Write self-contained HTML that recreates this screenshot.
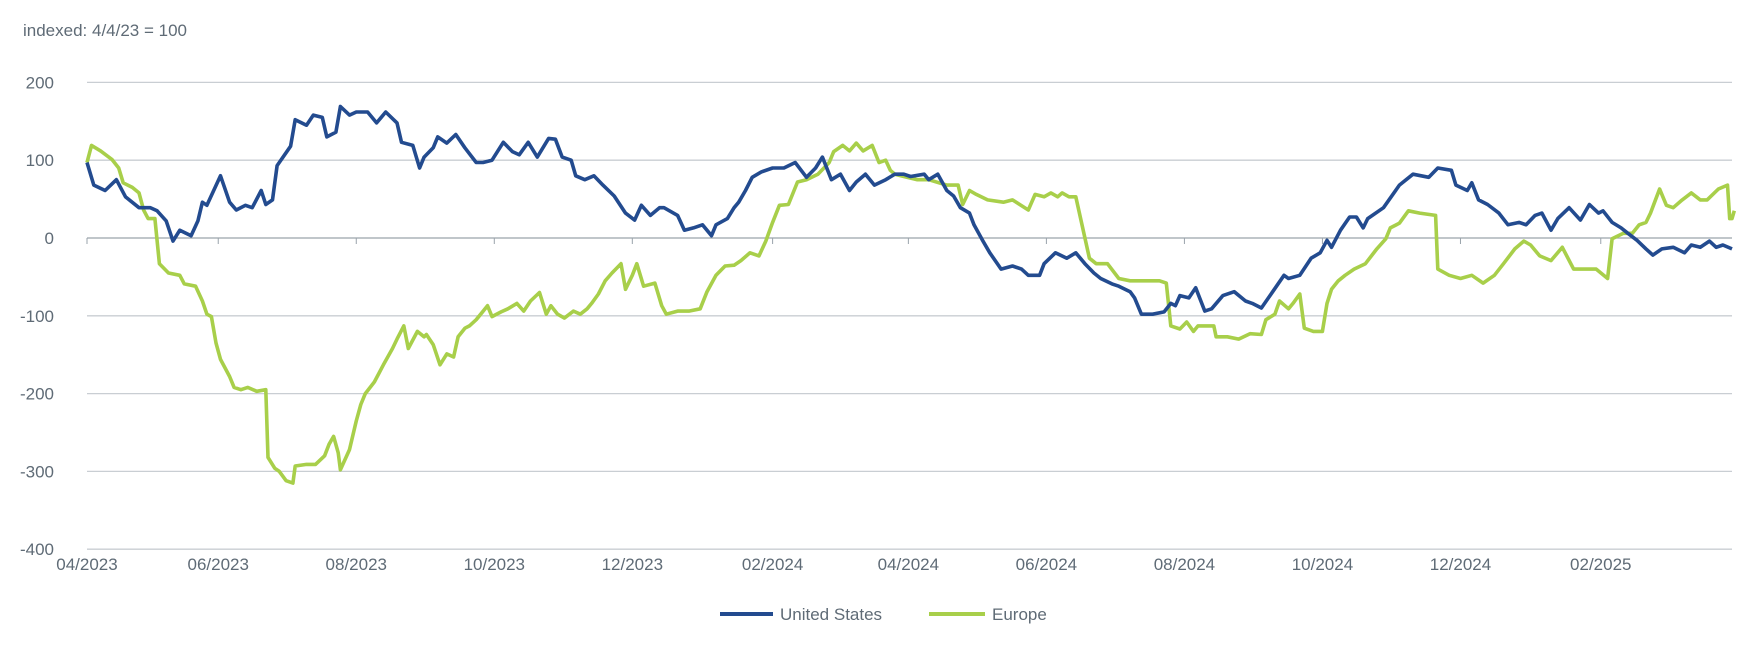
<!DOCTYPE html>
<html><head><meta charset="utf-8"><style>
body{margin:0;background:#fff;font-family:"Liberation Sans",sans-serif;}
svg text{font-family:"Liberation Sans",sans-serif;fill:#5f6b76;}
</style></head><body>
<svg width="1755" height="647" viewBox="0 0 1755 647">
<text x="23" y="36" font-size="17">indexed: 4/4/23 = 100</text>
<g id="grid"></g>
<g id="lines"></g>
<g>
<line x1="720" y1="614" x2="773" y2="614" stroke="#234b8f" stroke-width="4"/>
<text x="780" y="620" font-size="17">United States</text>
<line x1="929" y1="614" x2="985" y2="614" stroke="#a8cf4a" stroke-width="4"/>
<text x="992" y="620" font-size="17">Europe</text>
</g>
</svg>
<script>
const yTicks=[200,100,0,-100,-200,-300,-400];
const xTickLabels=["04/2023","06/2023","08/2023","10/2023","12/2023","02/2024","04/2024","06/2024","08/2024","10/2024","12/2024","02/2025"];
const xTickDays=[0,58,119,180,241,303,363,424,485,546,607,669];
const usDays=[0,3,8,13,17,23,28,31,35,38,41,46,49,51,53,56,59,63,66,70,73,77,79,82,84,90,92,97,100,104,106,110,112,116,119,124,128,132,137,139,144,147,149,153,155,159,163,167,172,175,179,184,188,191,195,199,204,207,210,214,216,220,224,228,233,238,242,245,249,253,255,261,264,268,272,276,278,283,286,288,291,294,298,303,308,313,318,322,325,329,333,337,340,344,348,353,357,361,364,370,372,376,380,383,386,390,392,396,399,404,409,413,416,421,423,428,433,437,441,445,448,453,456,461,463,466,471,476,479,481,483,487,490,494,497,502,507,512,515,519,524,529,531,536,541,545,548,550,554,558,561,564,566,573,580,586,593,597,603,605,610,612,615,619,624,628,633,636,640,643,647,650,655,660,664,668,670,674,678,681,685,689,692,696,701,706,709,713,717,720,723,727];
const usValues=[97,68,61,75,53,39,39,35,22,-4,10,3,22,46,42,61,80,46,36,42,39,61,43,49,93,118,152,145,158,155,130,136,169,158,162,162,148,162,148,123,119,90,104,116,130,122,133,116,97,97,100,123,111,107,123,104,128,127,104,100,80,75,80,68,54,32,23,42,29,39,39,29,10,13,17,3,17,25,39,46,61,78,85,90,90,97,78,90,104,75,82,61,72,82,68,75,82,82,79,82,75,82,61,54,39,32,17,-4,-19,-40,-36,-40,-48,-48,-33,-19,-26,-19,-33,-45,-52,-59,-62,-69,-77,-98,-98,-95,-84,-87,-74,-77,-64,-94,-91,-74,-69,-81,-84,-90,-69,-48,-52,-48,-26,-19,-3,-12,10,27,27,13,25,39,68,82,78,90,87,68,61,71,49,43,32,17,20,17,29,32,10,25,39,23,43,32,35,20,13,6,-3,-14,-22,-14,-12,-19,-9,-12,-4,-12,-9,-14];
const euDays=[0,2,6,11,14,16,20,23,25,27,30,32,36,41,43,48,51,53,55,57,59,63,65,68,71,75,79,80,83,85,88,91,92,97,101,105,107,109,111,112,116,119,121,123,127,131,135,137,140,142,146,149,150,153,156,159,162,164,167,169,172,174,177,179,183,186,190,193,196,200,203,205,208,211,215,218,221,223,226,229,232,236,238,241,243,246,251,254,256,261,266,271,274,278,282,286,289,293,297,300,303,306,310,314,318,323,328,330,334,337,340,343,347,350,353,355,357,361,367,372,380,385,387,390,393,398,405,409,416,419,423,426,429,431,434,437,443,446,451,456,461,466,474,477,479,483,486,489,491,498,499,504,509,514,519,521,525,527,531,533,536,538,542,546,548,550,553,556,560,565,570,574,576,580,584,589,596,597,602,607,612,617,622,626,631,635,638,642,647,652,657,662,667,672,674,679,683,686,689,691,695,698,701,705,709,713,716,721,725,726,727,728];
const euValues=[97,119,112,101,90,71,65,58,36,25,25,-33,-45,-48,-59,-62,-81,-98,-101,-135,-156,-178,-192,-195,-192,-197,-195,-282,-296,-300,-312,-315,-293,-291,-291,-280,-265,-255,-276,-298,-272,-235,-214,-200,-185,-163,-142,-130,-113,-142,-120,-127,-124,-137,-163,-149,-153,-127,-116,-113,-105,-98,-87,-101,-95,-91,-84,-94,-81,-70,-98,-87,-98,-103,-94,-98,-91,-84,-72,-55,-45,-33,-66,-48,-33,-62,-58,-87,-98,-94,-94,-91,-69,-48,-36,-35,-29,-19,-23,-4,20,42,43,72,75,82,97,111,119,112,122,112,119,97,100,87,82,79,75,75,68,68,43,61,56,49,46,49,36,56,53,58,53,58,53,53,-26,-33,-33,-52,-55,-55,-55,-58,-113,-117,-108,-120,-113,-113,-127,-127,-130,-123,-124,-105,-98,-81,-91,-84,-72,-116,-120,-120,-84,-66,-55,-48,-40,-33,-14,-1,13,19,35,32,29,-40,-48,-52,-48,-58,-48,-33,-14,-4,-9,-23,-29,-12,-40,-40,-40,-52,-1,6,6,17,20,32,63,42,39,49,58,49,49,63,68,25,25,35];
const NS="http://www.w3.org/2000/svg";
const X=d=>87+d*(1732-87)/727;
const Y=v=>238-v*0.778;
const grid=document.getElementById('grid');
yTicks.forEach(v=>{
 const l=document.createElementNS(NS,'line');
 
 
 l.setAttribute('x1',87);l.setAttribute('x2',1732);l.setAttribute('y1',Y(v));l.setAttribute('y2',Y(v));
 l.setAttribute('stroke',v===0?'#9aa3ab':'#c9ced3');l.setAttribute('stroke-width',1.3);
 grid.appendChild(l);
 const t=document.createElementNS(NS,'text');
 
 
 t.setAttribute('x',54);t.setAttribute('y',Y(v)+6);t.setAttribute('text-anchor','end');t.setAttribute('font-size','17');
 t.textContent=v;grid.appendChild(t);
});
xTickDays.forEach((d,i)=>{
 const tk=document.createElementNS(NS,'line');
 
 
 tk.setAttribute('x1',X(d));tk.setAttribute('x2',X(d));tk.setAttribute('y1',Y(0));tk.setAttribute('y2',Y(0)+6);
 tk.setAttribute('stroke','#9aa3ab');grid.appendChild(tk);
 const t=document.createElementNS(NS,'text');
 
 
 t.setAttribute('x',X(d));t.setAttribute('y',570);t.setAttribute('text-anchor','middle');t.setAttribute('font-size','17');
 t.textContent=xTickLabels[i];grid.appendChild(t);
});
const lines=document.getElementById('lines');
function draw(days,vals,color,name){
 const p=document.createElementNS(NS,'path');
 
 
 p.setAttribute('d',days.map((d,i)=>(i?'L':'M')+X(d).toFixed(1)+','+Y(vals[i]).toFixed(1)).join(''));
 p.setAttribute('fill','none');p.setAttribute('stroke',color);p.setAttribute('stroke-width',3.6);p.setAttribute('stroke-linejoin','round');
 lines.appendChild(p);
}
draw(euDays,euValues,'#a8cf4a','europe-line');
draw(usDays,usValues,'#234b8f','united-states-line');
</script>
</body></html>
